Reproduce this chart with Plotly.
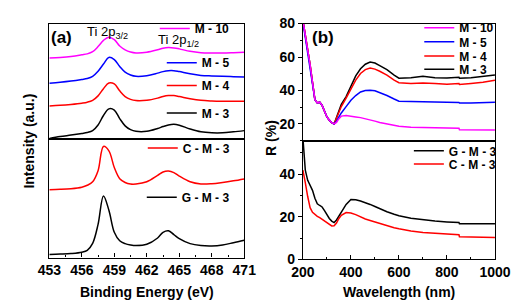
import plotly.graph_objects as go

FONT = "Liberation Sans, Arial, sans-serif"

# ---------------- (a) XPS Ti 2p ----------------
energy = [453, 454, 455, 456, 456.5, 457, 457.5, 458, 458.5, 459, 459.5, 460, 460.5,
          461, 462, 463, 463.5, 464, 464.5, 465, 466, 467, 468, 469, 470, 471]
# top stack (a.u.)
xps_m10 = [85.7, 86.3, 87.3, 89.0, 90.0, 92.3, 97.7, 104.3, 107.7, 105.0, 98.3, 94.3, 92.0,
           91.0, 91.7, 94.3, 96.0, 96.7, 96.3, 95.3, 92.7, 91.3, 91.0, 91.0, 91.3, 91.7]
xps_m5 = [59.0, 60.0, 61.3, 63.0, 64.0, 66.3, 71.7, 79.3, 86.3, 84.0, 76.7, 70.7, 67.7,
          66.3, 67.0, 69.7, 71.3, 72.3, 72.3, 71.3, 69.0, 67.3, 66.7, 66.3, 66.0, 65.7]
xps_m4 = [35.0, 35.7, 36.7, 38.0, 39.0, 41.0, 45.7, 53.3, 59.3, 58.3, 51.0, 45.0, 42.0,
          40.7, 41.0, 43.3, 45.0, 46.0, 46.0, 45.0, 42.7, 41.0, 40.3, 40.0, 40.0, 40.0]
xps_m3 = [0.7, 2.7, 4.3, 6.0, 7.0, 9.0, 15.0, 25.0, 32.0, 30.7, 21.7, 14.0, 10.0,
          8.3, 8.3, 11.3, 13.3, 15.0, 15.7, 14.7, 10.7, 7.7, 6.7, 6.7, 7.7, 9.0]
# bottom stack (a.u.)
xps_cm3 = [71.7, 72.0, 72.7, 74.3, 76.3, 80.0, 91.7, 117.3, 112.7, 95.0, 83.3, 79.3, 77.7,
           77.7, 80.0, 86.7, 90.3, 91.3, 89.7, 86.0, 80.0, 77.7, 78.0, 79.3, 81.0, 83.0]
xps_gm3 = [3.3, 3.7, 4.3, 5.7, 7.7, 15.0, 35.0, 65.0, 50.0, 26.7, 17.7, 14.7, 13.3,
           12.7, 14.0, 20.7, 26.7, 28.3, 24.3, 20.0, 14.7, 12.7, 12.3, 13.3, 15.7, 18.3]

# ---------------- (b) Reflectance ----------------
wavelength = [200, 205, 210, 220, 230, 240, 250, 260, 270, 280, 290, 300, 310, 320, 330,
              340, 350, 360, 380, 400, 420, 440, 460, 480, 500, 520, 550, 580, 600,
              650, 700, 750, 800, 850, 852, 900, 950, 1000]
r_m10 = [82.0, 77.9, 73.2, 63.8, 55.3, 44.9, 34.5, 32.6, 33.0, 31.1, 27.0, 24.2, 22.3, 20.8, 20.0,
         20.9, 23.2, 24.7, 25.1, 24.5, 24.2, 23.8, 23.2, 22.5, 21.7, 20.9, 20.0, 19.1, 18.7,
         18.1, 17.9, 17.7, 17.5, 17.4, 16.6, 16.6, 16.4, 16.4]
r_m5 = [81.0, 76.5, 72.0, 63.0, 55.0, 44.9, 34.5, 32.6, 33.0, 31.1, 27.0, 24.2, 22.3, 20.8, 20.0,
        21.7, 24.2, 26.6, 30.4, 34.2, 37.0, 39.1, 40.0, 40.2, 39.8, 38.7, 37.0, 34.9, 33.6,
        33.4, 33.4, 33.2, 33.0, 32.8, 32.5, 32.5, 32.6, 33.0]
r_m4 = [82.0, 77.9, 73.2, 63.8, 55.3, 44.9, 34.5, 32.6, 33.0, 31.1, 27.0, 24.2, 22.3, 20.8, 20.0,
        23.2, 26.6, 30.4, 35.5, 41.1, 46.2, 50.2, 52.5, 53.4, 52.8, 51.5, 49.2, 46.2, 44.7,
        44.2, 44.5, 44.2, 43.8, 44.2, 43.6, 44.2, 44.9, 46.2]
r_m3 = [82.0, 77.9, 73.2, 63.8, 55.3, 44.9, 34.5, 32.6, 33.0, 31.1, 27.0, 24.2, 22.3, 20.8, 20.0,
        24.2, 27.9, 31.7, 36.4, 43.0, 48.7, 53.0, 55.7, 57.0, 56.4, 54.9, 52.5, 49.2, 47.4,
        47.7, 48.5, 47.7, 47.5, 47.9, 47.4, 47.7, 48.3, 49.2]
r_gm3 = [57.0, 50.0, 41.9, 37.1, 35.0, 32.4, 28.7, 26.1, 25.3, 24.6, 22.9, 21.0, 19.2, 18.0, 17.3,
         18.5, 20.2, 22.4, 25.8, 28.1, 28.0, 27.4, 26.7, 25.8, 24.8, 23.7, 22.4, 21.2, 20.5,
         19.3, 18.5, 18.0, 17.6, 17.3, 16.7, 16.7, 16.7, 16.7]
r_cm3 = [41.9, 39.4, 36.0, 29.5, 24.3, 22.1, 21.0, 20.2, 19.6, 18.9, 18.0, 17.1, 16.4, 15.7, 15.8,
         17.1, 19.2, 20.7, 22.0, 21.8, 21.0, 19.9, 19.0, 18.3, 17.6, 16.8, 16.0, 14.9, 14.4,
         13.3, 12.6, 12.2, 11.9, 11.6, 10.7, 10.5, 10.4, 10.3]

MAG, BLU, RED, BLK = "#ff00ff", "#0000ff", "#ff0000", "#000000"
LW = 1.5

fig = go.Figure()

def add(x, y, name, color, xa, ya, leg, shape):
    fig.add_trace(go.Scatter(x=x, y=y, name="<b>" + name + "</b>", mode="lines",
                             line=dict(color=color, width=LW, shape=shape),
                             xaxis=xa, yaxis=ya, legend=leg, showlegend=True,
                             hoverinfo="skip"))

# (a)
add(energy, xps_m3, "M - 3", BLK, "x", "y", "legend4", "spline")
add(energy, xps_m4, "M - 4", RED, "x", "y", "legend3", "spline")
add(energy, xps_m5, "M - 5", BLU, "x", "y", "legend2", "spline")
add(energy, xps_m10, "M - 10", MAG, "x", "y", "legend", "spline")
add(energy, xps_cm3, "C - M - 3", RED, "x2", "y2", "legend5", "spline")
add(energy, xps_gm3, "G - M - 3", BLK, "x2", "y2", "legend6", "spline")
# (b)
add(wavelength, r_m3, "M - 3", BLK, "x3", "y3", "legend10", "linear")
add(wavelength, r_m4, "M - 4", RED, "x3", "y3", "legend9", "linear")
add(wavelength, r_m5, "M - 5", BLU, "x3", "y3", "legend8", "linear")
add(wavelength, r_m10, "M - 10", MAG, "x3", "y3", "legend7", "linear")
add(wavelength, r_gm3, "G - M - 3", BLK, "x4", "y4", "legend11", "linear")
add(wavelength, r_cm3, "C - M - 3", RED, "x4", "y4", "legend12", "linear")

W, H = 520, 304
px = lambda v: v / W
py = lambda v: 1 - v / H

tickfont = dict(family=FONT, size=14, color="black", weight=700)
base = dict(showline=True, linecolor="black", linewidth=1.2, mirror=True,
            showgrid=False, zeroline=False, tickfont=tickfont, tickcolor="black",
            ticklabeloverflow="allow")

LX = [px(31), px(237)]
RX = [px(299), px(502)]

fig.update_layout(
    width=W, height=H, autosize=False,
    margin=dict(l=0, r=0, t=0, b=0),
    paper_bgcolor="white", plot_bgcolor="white",
    xaxis=dict(base, domain=LX, anchor="y", range=[453, 471], showticklabels=False, ticks=""),
    yaxis=dict(base, domain=[py(130), py(8)], anchor="x", range=[0, 122],
               showticklabels=False, ticks=""),
    xaxis2=dict(base, domain=LX, anchor="y2", range=[453, 471], tick0=453, dtick=3,
                ticks="inside", ticklen=4, tickwidth=1,
                minor=dict(dtick=1.5, ticks="inside", ticklen=2.5, tickcolor="black")),
    yaxis2=dict(base, domain=[py(255), py(130)], anchor="x2", range=[0, 125],
                showticklabels=False, ticks=""),
    xaxis3=dict(base, domain=RX, anchor="y3", range=[200, 1000], showticklabels=False, ticks=""),
    yaxis3=dict(base, domain=[py(132), py(8)], anchor="x3", range=[9.8, 80], tick0=0, dtick=20,
                ticks="outside", ticklen=4, tickwidth=1,
                minor=dict(dtick=10, ticks="outside", ticklen=2, tickcolor="black")),
    xaxis4=dict(base, domain=RX, anchor="y4", range=[200, 1000], tick0=200, dtick=200,
                ticks="inside", ticklen=4, tickwidth=1,
                minor=dict(dtick=100, ticks="inside", ticklen=2.5, tickcolor="black")),
    yaxis4=dict(base, domain=[py(257), py(132)], anchor="x4", range=[0, 55.5], tick0=0, dtick=20,
                ticks="outside", ticklen=4, tickwidth=1,
                minor=dict(dtick=10, ticks="outside", ticklen=2, tickcolor="black")),
)

legfont = dict(family=FONT, size=12, color="black", weight=700)
OFF = 17
def leg(x, y, xanchor):
    return dict(x=x, y=py(y - OFF), xanchor=xanchor, yanchor="top", xref="paper", yref="paper",
                bgcolor="rgba(0,0,0,0)", borderwidth=0, font=legfont, itemwidth=30,
                tracegroupgap=0, itemclick=False, itemdoubleclick=False)

fig.update_layout(
    legend=leg(px(227), 15, "right"),
    legend2=leg(px(227), 51, "right"),
    legend3=leg(px(227), 75, "right"),
    legend4=leg(px(227), 104, "right"),
    legend5=leg(px(227), 141, "right"),
    legend6=leg(px(227), 193, "right"),
    legend7=leg(px(422), 14, "left"),
    legend8=leg(px(422), 29, "left"),
    legend9=leg(px(422), 44, "left"),
    legend10=leg(px(422), 58, "left"),
    legend11=leg(px(411), 144, "left"),
    legend12=leg(px(411), 158, "left"),
)

def ann(text, x, y, size, bold=True, angle=0, xanchor="center"):
    fig.add_annotation(text=("<b>" + text + "</b>") if bold else text,
                       x=x, y=y, xref="paper", yref="paper", showarrow=False,
                       xanchor=xanchor, yanchor="middle", textangle=angle,
                       font=dict(family=FONT, size=size, color="black"))

ann("(a)", px(44), py(22.5), 17)
ann("(b)", px(320), py(23), 17)
ann("Ti 2p<sub>3/2</sub>", px(93), py(17), 13, bold=False)
ann("Ti 2p<sub>1/2</sub>", px(168), py(26), 13, bold=False)
ann("Intensity (a.u.)", px(9.5), py(131.5), 14, angle=-90)
ann("R (%)", px(266), py(129), 14, angle=-90)
ann("Binding Energy (eV)", px(134), py(291), 14)
ann("Wavelength (nm)", px(401), py(291), 14)

fig.write_html("out.html")
